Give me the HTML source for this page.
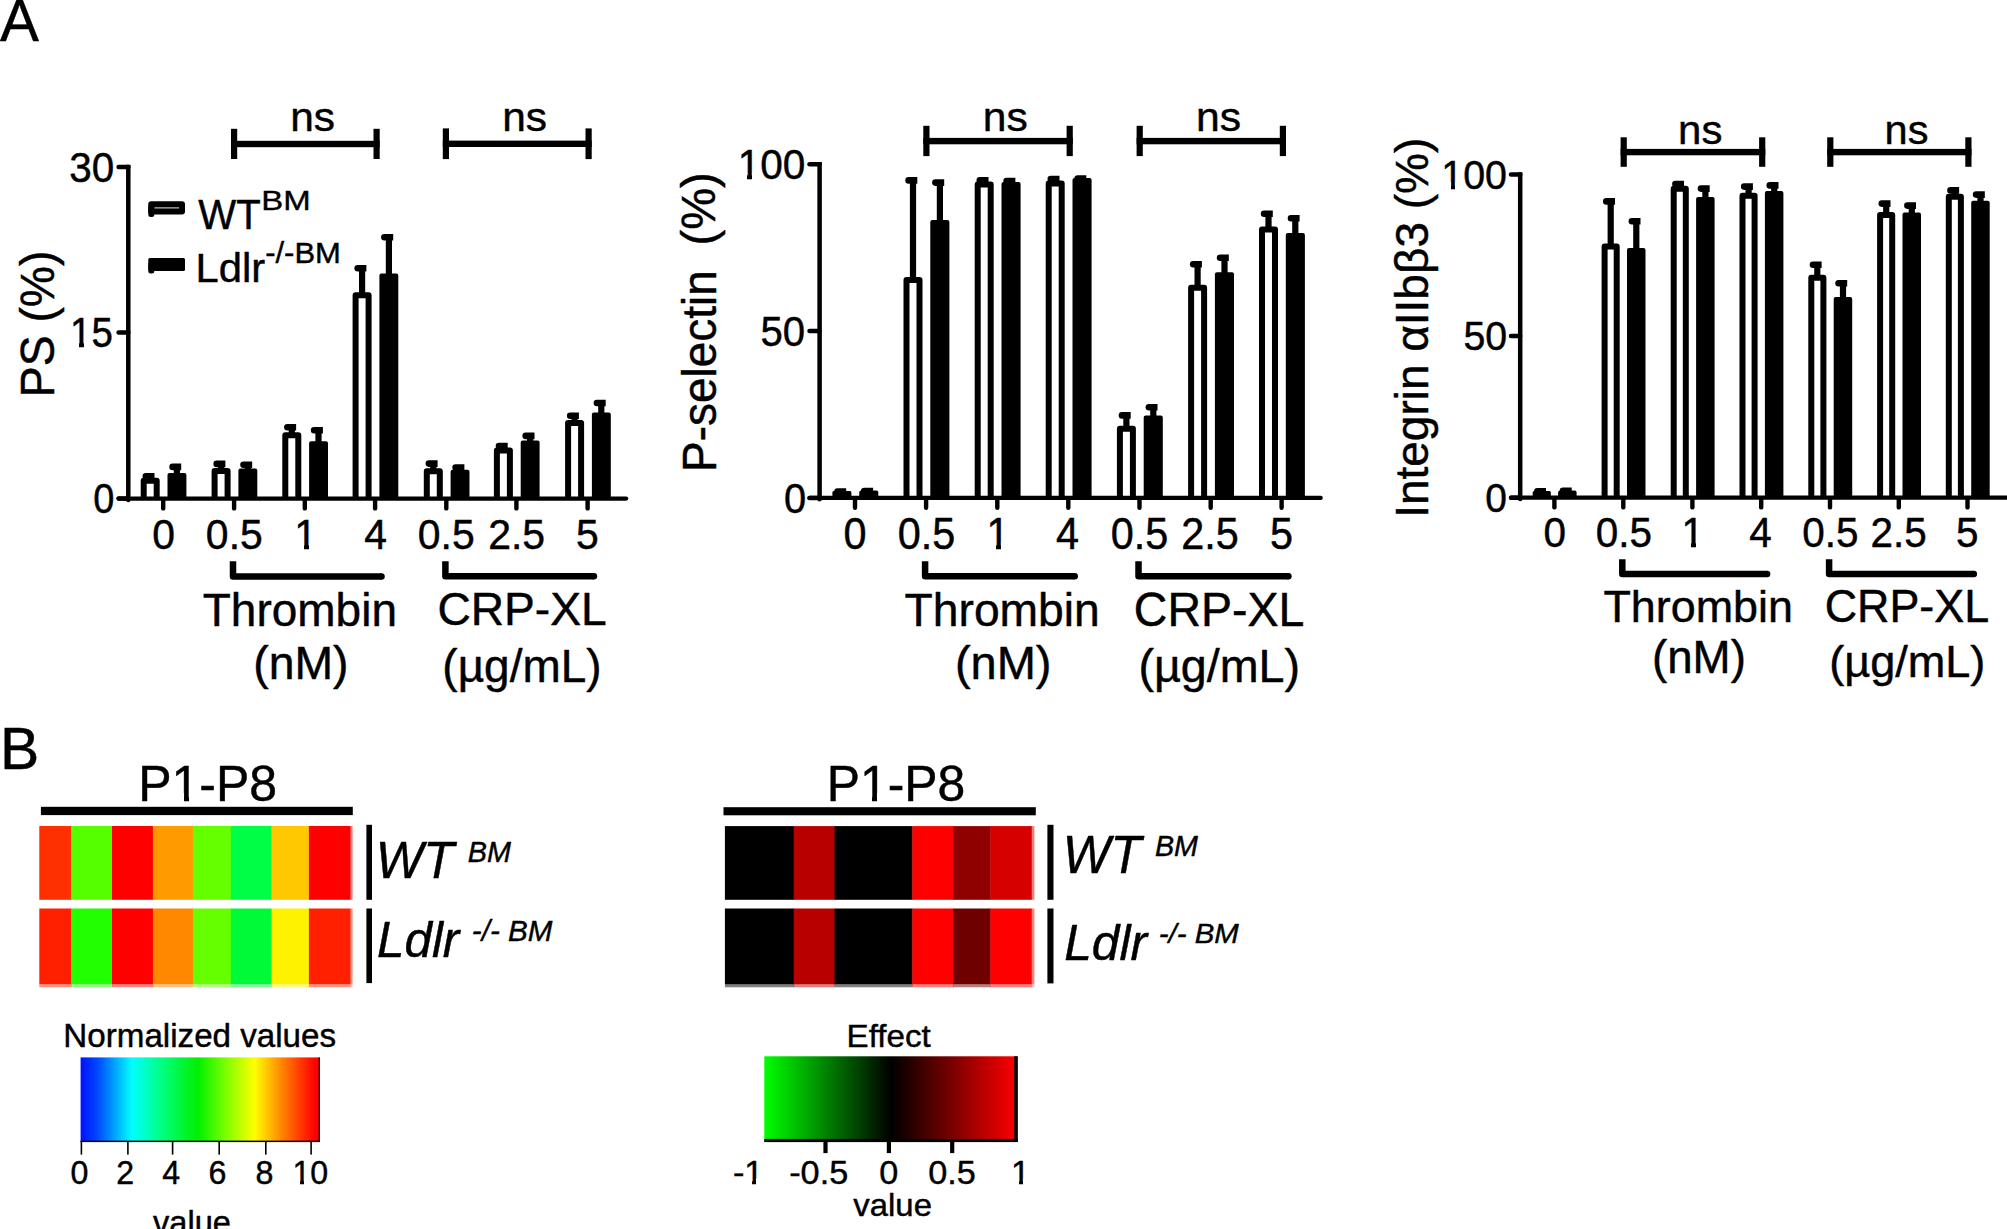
<!DOCTYPE html>
<html><head><meta charset="utf-8"><title>Figure</title>
<style>html,body{margin:0;padding:0;background:#fff;overflow:hidden}svg{display:block}text{stroke:#000;stroke-width:0.45px;stroke-linejoin:round}</style>
</head><body>
<svg width="2007" height="1229" viewBox="0 0 2007 1229" font-family='"Liberation Sans", sans-serif' fill="#000">
<defs>
<linearGradient id="jet" x1="0" x2="1" y1="0" y2="0"><stop offset="0" stop-color="#0010ff"/><stop offset="0.07" stop-color="#0048ff"/><stop offset="0.14" stop-color="#00a0ff"/><stop offset="0.215" stop-color="#00ffff"/><stop offset="0.34" stop-color="#00ff80"/><stop offset="0.49" stop-color="#00f000"/><stop offset="0.61" stop-color="#80ff00"/><stop offset="0.727" stop-color="#ffff00"/><stop offset="0.845" stop-color="#ff8000"/><stop offset="0.98" stop-color="#ff0000"/></linearGradient>
<linearGradient id="gr" x1="0" x2="1" y1="0" y2="0"><stop offset="0" stop-color="#00ff00"/><stop offset="0.5" stop-color="#000000"/><stop offset="1" stop-color="#ff0000"/></linearGradient>
</defs>
<rect width="2007" height="1229" fill="#fff"/>
<rect x="147.1" y="473.9" width="6.2" height="4.9"/>
<path d="M145.8 472.9 H154.5 V479.5 H145.8 A3.3 3.3 0 0 1 145.8 472.9Z"/>
<path d="M143.7 498.6 V480.8 H156.7 V498.6" fill="#fff" stroke="#000" stroke-width="6.0" stroke-linejoin="round"/>
<rect x="173.8" y="464.6" width="6.2" height="9.3"/>
<path d="M172.6 463.6 H181.2 V470.2 H172.6 A3.3 3.3 0 0 1 172.6 463.6Z"/>
<path d="M167.5 498.6 V474.9 Q167.5 472.9 169.5 472.9 H184.4 Q186.4 472.9 186.4 474.9 V498.6Z"/>
<rect x="218.0" y="461.6" width="6.2" height="7.5"/>
<path d="M216.7 460.6 H225.4 V467.2 H216.7 A3.3 3.3 0 0 1 216.7 460.6Z"/>
<path d="M214.6 498.6 V471.1 H227.6 V498.6" fill="#fff" stroke="#000" stroke-width="6.0" stroke-linejoin="round"/>
<rect x="244.8" y="462.4" width="6.2" height="7.2"/>
<path d="M243.5 461.4 H252.2 V468.0 H243.5 A3.3 3.3 0 0 1 243.5 461.4Z"/>
<path d="M238.4 498.6 V470.6 Q238.4 468.6 240.4 468.6 H255.3 Q257.3 468.6 257.3 470.6 V498.6Z"/>
<rect x="288.7" y="425.0" width="6.2" height="8.2"/>
<path d="M287.4 424.0 H296.1 V430.6 H287.4 A3.3 3.3 0 0 1 287.4 424.0Z"/>
<path d="M285.3 498.6 V435.2 H298.3 V498.6" fill="#fff" stroke="#000" stroke-width="6.0" stroke-linejoin="round"/>
<rect x="315.4" y="428.0" width="6.2" height="14.2"/>
<path d="M314.1 427.0 H322.9 V433.6 H314.1 A3.3 3.3 0 0 1 314.1 427.0Z"/>
<path d="M309.1 498.6 V443.2 Q309.1 441.2 311.1 441.2 H326.0 Q328.0 441.2 328.0 443.2 V498.6Z"/>
<rect x="359.0" y="266.0" width="6.2" height="27.3"/>
<path d="M357.7 265.0 H366.4 V271.6 H357.7 A3.3 3.3 0 0 1 357.7 265.0Z"/>
<path d="M355.6 498.6 V295.3 H368.6 V498.6" fill="#fff" stroke="#000" stroke-width="6.0" stroke-linejoin="round"/>
<rect x="385.8" y="235.0" width="6.2" height="39.4"/>
<path d="M384.4 234.0 H393.2 V240.6 H384.4 A3.3 3.3 0 0 1 384.4 234.0Z"/>
<path d="M379.4 498.6 V275.4 Q379.4 273.4 381.4 273.4 H396.3 Q398.3 273.4 398.3 275.4 V498.6Z"/>
<rect x="430.2" y="461.3" width="6.2" height="8.0"/>
<path d="M428.9 460.3 H437.6 V466.9 H428.9 A3.3 3.3 0 0 1 428.9 460.3Z"/>
<path d="M426.8 498.6 V471.3 H439.8 V498.6" fill="#fff" stroke="#000" stroke-width="6.0" stroke-linejoin="round"/>
<rect x="456.9" y="465.3" width="6.2" height="5.4"/>
<path d="M455.6 464.3 H464.4 V470.9 H455.6 A3.3 3.3 0 0 1 455.6 464.3Z"/>
<path d="M450.6 498.6 V471.7 Q450.6 469.7 452.6 469.7 H467.5 Q469.5 469.7 469.5 471.7 V498.6Z"/>
<rect x="500.3" y="443.8" width="6.2" height="4.6"/>
<path d="M499.0 442.8 H507.7 V449.4 H499.0 A3.3 3.3 0 0 1 499.0 442.8Z"/>
<path d="M496.9 498.6 V450.4 H509.9 V498.6" fill="#fff" stroke="#000" stroke-width="6.0" stroke-linejoin="round"/>
<rect x="527.0" y="433.6" width="6.2" height="8.0"/>
<path d="M525.7 432.6 H534.5 V439.2 H525.7 A3.3 3.3 0 0 1 525.7 432.6Z"/>
<path d="M520.7 498.6 V442.6 Q520.7 440.6 522.7 440.6 H537.6 Q539.6 440.6 539.6 442.6 V498.6Z"/>
<rect x="571.5" y="413.4" width="6.2" height="7.5"/>
<path d="M570.2 412.4 H578.9 V419.0 H570.2 A3.3 3.3 0 0 1 570.2 412.4Z"/>
<path d="M568.1 498.6 V422.9 H581.1 V498.6" fill="#fff" stroke="#000" stroke-width="6.0" stroke-linejoin="round"/>
<rect x="598.2" y="400.7" width="6.2" height="12.7"/>
<path d="M596.9 399.7 H605.7 V406.3 H596.9 A3.3 3.3 0 0 1 596.9 399.7Z"/>
<path d="M591.9 498.6 V414.4 Q591.9 412.4 593.9 412.4 H608.8 Q610.8 412.4 610.8 414.4 V498.6Z"/>
<path d="M128.3 164.8 V500.2" stroke="#000" stroke-width="4.5" stroke-linecap="butt" fill="none"/>
<circle cx="128.3" cy="500.0" r="2.2"/>
<path d="M118.6 498.6 H626.2" stroke="#000" stroke-width="4.2" stroke-linecap="round" fill="none"/>
<path d="M118.6 167.0 H128.3" stroke="#000" stroke-width="4.5" stroke-linecap="round" fill="none"/>
<path d="M118.6 332.6 H128.3" stroke="#000" stroke-width="4.5" stroke-linecap="round" fill="none"/>
<path d="M118.6 498.6 H128.3" stroke="#000" stroke-width="4.5" stroke-linecap="round" fill="none"/>
<path d="M163.2 499.1 V508.4" stroke="#000" stroke-width="4.4" stroke-linecap="round" fill="none"/>
<path d="M234.1 499.1 V508.4" stroke="#000" stroke-width="4.4" stroke-linecap="round" fill="none"/>
<path d="M304.8 499.1 V508.4" stroke="#000" stroke-width="4.4" stroke-linecap="round" fill="none"/>
<path d="M375.1 499.1 V508.4" stroke="#000" stroke-width="4.4" stroke-linecap="round" fill="none"/>
<path d="M446.3 499.1 V508.4" stroke="#000" stroke-width="4.4" stroke-linecap="round" fill="none"/>
<path d="M516.4 499.1 V508.4" stroke="#000" stroke-width="4.4" stroke-linecap="round" fill="none"/>
<path d="M587.6 499.1 V508.4" stroke="#000" stroke-width="4.4" stroke-linecap="round" fill="none"/>
<rect x="231.0" y="140.8" width="148.7" height="6.4"/>
<rect x="231.0" y="128.8" width="6.2" height="30.2"/>
<rect x="373.5" y="128.8" width="6.2" height="30.2"/>
<rect x="442.8" y="140.6" width="148.9" height="6.4"/>
<rect x="442.8" y="128.4" width="6.2" height="30.7"/>
<rect x="585.5" y="128.4" width="6.2" height="30.7"/>
<path d="M233.0 561.2 V576.5 H381.5" fill="none" stroke="#000" stroke-width="6.5" stroke-linejoin="round"/>
<circle cx="381.5" cy="576.5" r="3.25"/>
<path d="M445.4 561.3 V576.2 H593.9" fill="none" stroke="#000" stroke-width="6.5" stroke-linejoin="round"/>
<circle cx="593.9" cy="576.2" r="3.25"/>
<rect x="838.8" y="489.2" width="6.2" height="2.9"/>
<path d="M837.5 488.2 H846.2 V494.8 H837.5 A3.3 3.3 0 0 1 837.5 488.2Z"/>
<rect x="832.4" y="491.1" width="19.0" height="6.8" rx="1.5"/>
<rect x="865.6" y="488.7" width="6.2" height="2.7"/>
<path d="M864.3 487.7 H873.1 V494.3 H864.3 A3.3 3.3 0 0 1 864.3 487.7Z"/>
<path d="M859.2 497.9 V492.4 Q859.2 490.4 861.2 490.4 H876.3 Q878.3 490.4 878.3 492.4 V497.9Z"/>
<rect x="909.9" y="178.1" width="6.2" height="99.8"/>
<path d="M908.6 177.1 H917.3 V183.7 H908.6 A3.3 3.3 0 0 1 908.6 177.1Z"/>
<path d="M906.5 497.9 V279.9 H919.5 V497.9" fill="#fff" stroke="#000" stroke-width="6.0" stroke-linejoin="round"/>
<rect x="936.8" y="180.3" width="6.2" height="40.8"/>
<path d="M935.4 179.3 H944.2 V185.9 H935.4 A3.3 3.3 0 0 1 935.4 179.3Z"/>
<path d="M930.3 497.9 V222.1 Q930.3 220.1 932.3 220.1 H947.4 Q949.4 220.1 949.4 222.1 V497.9Z"/>
<rect x="981.1" y="178.1" width="6.2" height="4.5"/>
<path d="M979.8 177.1 H988.5 V183.7 H979.8 A3.3 3.3 0 0 1 979.8 177.1Z"/>
<path d="M977.7 497.9 V184.6 H990.7 V497.9" fill="#fff" stroke="#000" stroke-width="6.0" stroke-linejoin="round"/>
<rect x="1007.9" y="178.7" width="6.2" height="4.3"/>
<path d="M1006.6 177.7 H1015.4 V184.3 H1006.6 A3.3 3.3 0 0 1 1006.6 177.7Z"/>
<path d="M1001.5 497.9 V184.0 Q1001.5 182.0 1003.5 182.0 H1018.6 Q1020.6 182.0 1020.6 184.0 V497.9Z"/>
<rect x="1052.1" y="176.7" width="6.2" height="4.9"/>
<path d="M1050.8 175.7 H1059.5 V182.3 H1050.8 A3.3 3.3 0 0 1 1050.8 175.7Z"/>
<path d="M1048.7 497.9 V183.6 H1061.7 V497.9" fill="#fff" stroke="#000" stroke-width="6.0" stroke-linejoin="round"/>
<rect x="1079.0" y="176.3" width="6.2" height="2.7"/>
<path d="M1077.7 175.3 H1086.3 V181.9 H1077.7 A3.3 3.3 0 0 1 1077.7 175.3Z"/>
<path d="M1072.5 497.9 V180.0 Q1072.5 178.0 1074.5 178.0 H1089.6 Q1091.6 178.0 1091.6 180.0 V497.9Z"/>
<rect x="1123.3" y="413.1" width="6.2" height="13.7"/>
<path d="M1122.0 412.1 H1130.7 V418.7 H1122.0 A3.3 3.3 0 0 1 1122.0 412.1Z"/>
<path d="M1119.9 497.9 V428.8 H1132.9 V497.9" fill="#fff" stroke="#000" stroke-width="6.0" stroke-linejoin="round"/>
<rect x="1150.2" y="405.0" width="6.2" height="11.6"/>
<path d="M1148.9 404.0 H1157.5 V410.6 H1148.9 A3.3 3.3 0 0 1 1148.9 404.0Z"/>
<path d="M1143.7 497.9 V417.6 Q1143.7 415.6 1145.7 415.6 H1160.8 Q1162.8 415.6 1162.8 417.6 V497.9Z"/>
<rect x="1194.5" y="262.0" width="6.2" height="23.7"/>
<path d="M1193.2 261.0 H1201.9 V267.6 H1193.2 A3.3 3.3 0 0 1 1193.2 261.0Z"/>
<path d="M1191.1 497.9 V287.7 H1204.1 V497.9" fill="#fff" stroke="#000" stroke-width="6.0" stroke-linejoin="round"/>
<rect x="1221.4" y="255.4" width="6.2" height="17.9"/>
<path d="M1220.1 254.4 H1228.8 V261.0 H1220.1 A3.3 3.3 0 0 1 1220.1 254.4Z"/>
<path d="M1214.9 497.9 V274.3 Q1214.9 272.3 1216.9 272.3 H1232.0 Q1234.0 272.3 1234.0 274.3 V497.9Z"/>
<rect x="1265.4" y="211.5" width="6.2" height="16.0"/>
<path d="M1264.1 210.5 H1272.8 V217.1 H1264.1 A3.3 3.3 0 0 1 1264.1 210.5Z"/>
<path d="M1262.0 497.9 V229.5 H1275.0 V497.9" fill="#fff" stroke="#000" stroke-width="6.0" stroke-linejoin="round"/>
<rect x="1292.2" y="215.9" width="6.2" height="18.2"/>
<path d="M1291.0 214.9 H1299.6 V221.5 H1291.0 A3.3 3.3 0 0 1 1291.0 214.9Z"/>
<path d="M1285.8 497.9 V235.1 Q1285.8 233.1 1287.8 233.1 H1302.9 Q1304.9 233.1 1304.9 235.1 V497.9Z"/>
<path d="M819.6 162.1 V499.5" stroke="#000" stroke-width="4.5" stroke-linecap="butt" fill="none"/>
<circle cx="819.6" cy="499.3" r="2.2"/>
<path d="M809.5 497.9 H1320.7" stroke="#000" stroke-width="4.2" stroke-linecap="round" fill="none"/>
<path d="M809.5 164.3 H819.6" stroke="#000" stroke-width="4.5" stroke-linecap="round" fill="none"/>
<path d="M809.5 330.9 H819.6" stroke="#000" stroke-width="4.5" stroke-linecap="round" fill="none"/>
<path d="M809.5 497.9 H819.6" stroke="#000" stroke-width="4.5" stroke-linecap="round" fill="none"/>
<path d="M855.0 498.4 V507.8" stroke="#000" stroke-width="4.4" stroke-linecap="round" fill="none"/>
<path d="M926.1 498.4 V507.8" stroke="#000" stroke-width="4.4" stroke-linecap="round" fill="none"/>
<path d="M997.3 498.4 V507.8" stroke="#000" stroke-width="4.4" stroke-linecap="round" fill="none"/>
<path d="M1068.3 498.4 V507.8" stroke="#000" stroke-width="4.4" stroke-linecap="round" fill="none"/>
<path d="M1139.5 498.4 V507.8" stroke="#000" stroke-width="4.4" stroke-linecap="round" fill="none"/>
<path d="M1210.7 498.4 V507.8" stroke="#000" stroke-width="4.4" stroke-linecap="round" fill="none"/>
<path d="M1281.6 498.4 V507.8" stroke="#000" stroke-width="4.4" stroke-linecap="round" fill="none"/>
<rect x="923.3" y="137.9" width="149.5" height="6.4"/>
<rect x="923.3" y="125.8" width="6.2" height="30.3"/>
<rect x="1066.6" y="125.8" width="6.2" height="30.3"/>
<rect x="1136.6" y="137.9" width="149.4" height="6.4"/>
<rect x="1136.6" y="125.8" width="6.2" height="30.3"/>
<rect x="1279.8" y="125.8" width="6.2" height="30.3"/>
<path d="M925.1 561.3 V576.2 H1074.7" fill="none" stroke="#000" stroke-width="6.5" stroke-linejoin="round"/>
<circle cx="1074.7" cy="576.2" r="3.25"/>
<path d="M1138.5 561.3 V576.2 H1288.4" fill="none" stroke="#000" stroke-width="6.5" stroke-linejoin="round"/>
<circle cx="1288.4" cy="576.2" r="3.25"/>
<rect x="1538.7" y="489.0" width="6.2" height="3.0"/>
<path d="M1537.4 488.0 H1546.0 V494.6 H1537.4 A3.3 3.3 0 0 1 1537.4 488.0Z"/>
<rect x="1532.7" y="491.0" width="18.1" height="6.7" rx="1.5"/>
<rect x="1564.3" y="488.6" width="6.2" height="2.8"/>
<path d="M1563.0 487.6 H1571.7 V494.2 H1563.0 A3.3 3.3 0 0 1 1563.0 487.6Z"/>
<path d="M1558.1 497.7 V492.4 Q1558.1 490.4 1560.1 490.4 H1574.6 Q1576.6 490.4 1576.6 492.4 V497.7Z"/>
<rect x="1607.6" y="199.1" width="6.2" height="45.4"/>
<path d="M1606.3 198.1 H1615.0 V204.7 H1606.3 A3.3 3.3 0 0 1 1606.3 198.1Z"/>
<path d="M1604.6 497.7 V246.5 H1616.7 V497.7" fill="#fff" stroke="#000" stroke-width="6.0" stroke-linejoin="round"/>
<rect x="1633.2" y="219.0" width="6.2" height="29.9"/>
<path d="M1631.9 218.0 H1640.5 V224.6 H1631.9 A3.3 3.3 0 0 1 1631.9 218.0Z"/>
<path d="M1627.0 497.7 V249.9 Q1627.0 247.9 1629.0 247.9 H1643.5 Q1645.5 247.9 1645.5 249.9 V497.7Z"/>
<rect x="1676.7" y="181.7" width="6.2" height="5.0"/>
<path d="M1675.4 180.7 H1684.0 V187.3 H1675.4 A3.3 3.3 0 0 1 1675.4 180.7Z"/>
<path d="M1673.7 497.7 V188.7 H1685.8 V497.7" fill="#fff" stroke="#000" stroke-width="6.0" stroke-linejoin="round"/>
<rect x="1702.3" y="186.3" width="6.2" height="11.8"/>
<path d="M1701.0 185.3 H1709.7 V191.9 H1701.0 A3.3 3.3 0 0 1 1701.0 185.3Z"/>
<path d="M1696.1 497.7 V199.1 Q1696.1 197.1 1698.1 197.1 H1712.6 Q1714.6 197.1 1714.6 199.1 V497.7Z"/>
<rect x="1745.5" y="184.3" width="6.2" height="9.4"/>
<path d="M1744.2 183.3 H1752.9 V189.9 H1744.2 A3.3 3.3 0 0 1 1744.2 183.3Z"/>
<path d="M1742.5 497.7 V195.7 H1754.6 V497.7" fill="#fff" stroke="#000" stroke-width="6.0" stroke-linejoin="round"/>
<rect x="1771.1" y="183.1" width="6.2" height="8.9"/>
<path d="M1769.8 182.1 H1778.5 V188.7 H1769.8 A3.3 3.3 0 0 1 1769.8 182.1Z"/>
<path d="M1764.9 497.7 V193.0 Q1764.9 191.0 1766.9 191.0 H1781.4 Q1783.4 191.0 1783.4 193.0 V497.7Z"/>
<rect x="1814.2" y="262.5" width="6.2" height="13.3"/>
<path d="M1813.0 261.5 H1821.6 V268.1 H1813.0 A3.3 3.3 0 0 1 1813.0 261.5Z"/>
<path d="M1811.3 497.7 V277.8 H1823.4 V497.7" fill="#fff" stroke="#000" stroke-width="6.0" stroke-linejoin="round"/>
<rect x="1839.9" y="281.0" width="6.2" height="17.0"/>
<path d="M1838.6 280.0 H1847.2 V286.6 H1838.6 A3.3 3.3 0 0 1 1838.6 280.0Z"/>
<path d="M1833.7 497.7 V299.0 Q1833.7 297.0 1835.7 297.0 H1850.2 Q1852.2 297.0 1852.2 299.0 V497.7Z"/>
<rect x="1883.1" y="201.3" width="6.2" height="11.7"/>
<path d="M1881.8 200.3 H1890.5 V206.9 H1881.8 A3.3 3.3 0 0 1 1881.8 200.3Z"/>
<path d="M1880.1 497.7 V215.0 H1892.2 V497.7" fill="#fff" stroke="#000" stroke-width="6.0" stroke-linejoin="round"/>
<rect x="1908.7" y="203.3" width="6.2" height="10.3"/>
<path d="M1907.4 202.3 H1916.0 V208.9 H1907.4 A3.3 3.3 0 0 1 1907.4 202.3Z"/>
<path d="M1902.5 497.7 V214.6 Q1902.5 212.6 1904.5 212.6 H1919.0 Q1921.0 212.6 1921.0 214.6 V497.7Z"/>
<rect x="1951.8" y="188.1" width="6.2" height="6.6"/>
<path d="M1950.5 187.1 H1959.1 V193.7 H1950.5 A3.3 3.3 0 0 1 1950.5 187.1Z"/>
<path d="M1948.8 497.7 V196.7 H1960.9 V497.7" fill="#fff" stroke="#000" stroke-width="6.0" stroke-linejoin="round"/>
<rect x="1977.4" y="192.3" width="6.2" height="9.4"/>
<path d="M1976.1 191.3 H1984.8 V197.9 H1976.1 A3.3 3.3 0 0 1 1976.1 191.3Z"/>
<path d="M1971.2 497.7 V202.7 Q1971.2 200.7 1973.2 200.7 H1987.7 Q1989.7 200.7 1989.7 202.7 V497.7Z"/>
<path d="M1520.2 172.2 V499.3" stroke="#000" stroke-width="4.5" stroke-linecap="butt" fill="none"/>
<circle cx="1520.2" cy="499.1" r="2.2"/>
<path d="M1511.0 497.7 H2009.9" stroke="#000" stroke-width="4.2" stroke-linecap="round" fill="none"/>
<path d="M1511.0 174.5 H1520.2" stroke="#000" stroke-width="4.5" stroke-linecap="round" fill="none"/>
<path d="M1511.0 335.9 H1520.2" stroke="#000" stroke-width="4.5" stroke-linecap="round" fill="none"/>
<path d="M1511.0 497.7 H1520.2" stroke="#000" stroke-width="4.5" stroke-linecap="round" fill="none"/>
<path d="M1554.4 498.2 V507.4" stroke="#000" stroke-width="4.4" stroke-linecap="round" fill="none"/>
<path d="M1623.3 498.2 V507.4" stroke="#000" stroke-width="4.4" stroke-linecap="round" fill="none"/>
<path d="M1692.4 498.2 V507.4" stroke="#000" stroke-width="4.4" stroke-linecap="round" fill="none"/>
<path d="M1761.2 498.2 V507.4" stroke="#000" stroke-width="4.4" stroke-linecap="round" fill="none"/>
<path d="M1830.0 498.2 V507.4" stroke="#000" stroke-width="4.4" stroke-linecap="round" fill="none"/>
<path d="M1898.8 498.2 V507.4" stroke="#000" stroke-width="4.4" stroke-linecap="round" fill="none"/>
<path d="M1967.5 498.2 V507.4" stroke="#000" stroke-width="4.4" stroke-linecap="round" fill="none"/>
<rect x="1620.6" y="148.9" width="144.7" height="6.4"/>
<rect x="1620.6" y="137.3" width="6.2" height="29.5"/>
<rect x="1759.1" y="137.3" width="6.2" height="29.5"/>
<rect x="1827.2" y="148.9" width="144.3" height="6.4"/>
<rect x="1827.2" y="137.3" width="6.2" height="29.5"/>
<rect x="1965.3" y="137.3" width="6.2" height="29.5"/>
<path d="M1622.3 559.3 V574.0 H1767.1" fill="none" stroke="#000" stroke-width="6.5" stroke-linejoin="round"/>
<circle cx="1767.1" cy="574.0" r="3.25"/>
<path d="M1829.1 559.3 V574.0 H1973.8" fill="none" stroke="#000" stroke-width="6.5" stroke-linejoin="round"/>
<circle cx="1973.8" cy="574.0" r="3.25"/>
<text transform="translate(0.00,40.75) scale(1,1.0244)" font-size="58.36" xml:space="preserve" >A</text>
<text transform="translate(69.28,181.58) scale(1,1.0448)" font-size="40.44" xml:space="preserve" >30</text>
<clipPath id="c1_1"><path clip-rule="evenodd" d="M-50 -46.1H92.8V19.2H-50ZM0.751 -6.20H8.880V1.69H0.751ZM13.880 -6.20H21.591V1.69H13.880Z"/></clipPath>
<text transform="translate(70.12,347.17) scale(1,1.1146)" font-size="38.45" clip-path="url(#c1_1)" xml:space="preserve" >15</text>
<text transform="translate(93.17,513.18) scale(1,1.1137)" font-size="37.94" xml:space="preserve" >0</text>
<text transform="translate(290.14,130.80) scale(1,0.9378)" font-size="42.46" xml:space="preserve" >ns</text>
<text transform="translate(502.14,130.69) scale(1,0.9549)" font-size="42.46" xml:space="preserve" >ns</text>
<text transform="translate(198.30,229.40) scale(1,1.0390)" font-size="40.16" xml:space="preserve" >WT</text>
<text transform="translate(261.36,209.70) scale(1,0.8492)" font-size="32.94" xml:space="preserve" >BM</text>
<text transform="translate(195.46,281.70) scale(1,0.9598)" font-size="41.79" xml:space="preserve" >Ldlr</text>
<text transform="translate(265.16,262.86) scale(1,0.9515)" font-size="31.00" xml:space="preserve" >-/-BM</text>
<text transform="translate(53.58,397.21) rotate(-90) scale(1,1.0198)" font-size="46.32" xml:space="preserve">PS (%)</text>
<text transform="translate(417.77,549.07) scale(1,1.0390)" font-size="40.94" xml:space="preserve" >0.5</text>
<text transform="translate(152.24,549.07) scale(1,1.0390)" font-size="40.94" xml:space="preserve">0</text>
<text transform="translate(205.87,549.07) scale(1,1.0390)" font-size="40.94" xml:space="preserve">0.5</text>
<clipPath id="c1_2"><path clip-rule="evenodd" d="M-50 -49.1H72.8V20.5H-50ZM0.800 -6.60H9.860V1.80H0.800ZM14.860 -6.60H22.989V1.80H14.860Z"/></clipPath>
<text transform="translate(294.14,549.07) scale(1,1.0390)" font-size="40.94" clip-path="url(#c1_2)" xml:space="preserve">1</text>
<text transform="translate(364.24,549.07) scale(1,1.0390)" font-size="40.94" xml:space="preserve">4</text>
<text transform="translate(488.16,549.07) scale(1,1.0390)" font-size="40.94" xml:space="preserve">2.5</text>
<text transform="translate(575.94,549.07) scale(1,1.0390)" font-size="40.94" xml:space="preserve">5</text>
<text transform="translate(202.78,626.01) scale(1,1.0070)" font-size="45.99" xml:space="preserve" >Thrombin</text>
<text transform="translate(253.22,679.05) scale(1,1.0118)" font-size="46.36" xml:space="preserve" >(nM)</text>
<text transform="translate(437.39,625.35) scale(1,0.9851)" font-size="46.18" xml:space="preserve" >CRP-XL</text>
<text transform="translate(442.34,681.76) scale(1,0.9995)" font-size="45.95" xml:space="preserve" >(µg/mL)</text>
<clipPath id="c1_3"><path clip-rule="evenodd" d="M-50 -48.7H117.7V20.3H-50ZM0.793 -6.54H9.340V1.78H0.793ZM14.340 -6.54H22.787V1.78H14.340Z"/></clipPath>
<text transform="translate(737.66,178.77) scale(1,1.0517)" font-size="40.58" clip-path="url(#c1_3)" xml:space="preserve" >100</text>
<text transform="translate(760.49,345.67) scale(1,1.0629)" font-size="40.15" xml:space="preserve" >50</text>
<text transform="translate(783.91,512.67) scale(1,1.0725)" font-size="39.79" xml:space="preserve" >0</text>
<text transform="translate(982.83,130.69) scale(1,0.9524)" font-size="42.57" xml:space="preserve" >ns</text>
<text transform="translate(1195.93,130.69) scale(1,0.9502)" font-size="42.67" xml:space="preserve" >ns</text>
<text transform="translate(716.42,471.97) rotate(-90) scale(1,1.0423)" font-size="45.94" xml:space="preserve">P-selectin</text>
<text transform="translate(715.33,245.43) rotate(-90) scale(1,1.0285)" font-size="47.11" xml:space="preserve">(%)</text>
<text transform="translate(897.65,548.96) scale(1,1.0512)" font-size="41.40" xml:space="preserve" >0.5</text>
<text transform="translate(843.51,548.96) scale(1,1.0512)" font-size="41.40" xml:space="preserve">0</text>
<clipPath id="c1_4"><path clip-rule="evenodd" d="M-50 -49.7H73.0V20.7H-50ZM0.809 -6.67H9.560V1.82H0.809ZM14.560 -6.67H23.247V1.82H14.560Z"/></clipPath>
<text transform="translate(986.44,548.96) scale(1,1.0512)" font-size="41.40" clip-path="url(#c1_4)" xml:space="preserve">1</text>
<text transform="translate(1056.12,548.96) scale(1,1.0512)" font-size="41.40" xml:space="preserve">4</text>
<text transform="translate(1110.85,548.96) scale(1,1.0512)" font-size="41.40" xml:space="preserve">0.5</text>
<text transform="translate(1181.34,548.96) scale(1,1.0512)" font-size="41.40" xml:space="preserve">2.5</text>
<text transform="translate(1270.11,548.96) scale(1,1.0512)" font-size="41.40" xml:space="preserve">5</text>
<text transform="translate(904.58,626.11) scale(1,0.9929)" font-size="46.23" xml:space="preserve" >Thrombin</text>
<text transform="translate(954.88,679.17) scale(1,0.9951)" font-size="47.03" xml:space="preserve" >(nM)</text>
<text transform="translate(1133.87,626.32) scale(1,1.0266)" font-size="46.51" xml:space="preserve" >CRP-XL</text>
<text transform="translate(1138.40,682.22) scale(1,0.9983)" font-size="46.66" xml:space="preserve" >(µg/mL)</text>
<clipPath id="c1_5"><path clip-rule="evenodd" d="M-50 -47.2H115.7V19.7H-50ZM0.769 -6.34H9.650V1.73H0.769ZM13.650 -6.34H22.102V1.73H13.650Z"/></clipPath>
<text transform="translate(1441.35,188.79) scale(1,1.0520)" font-size="39.36" clip-path="url(#c1_5)" xml:space="preserve" >100</text>
<text transform="translate(1463.43,350.19) scale(1,1.0542)" font-size="39.28" xml:space="preserve" >50</text>
<text transform="translate(1485.34,511.99) scale(1,1.0626)" font-size="38.97" xml:space="preserve" >0</text>
<text transform="translate(1678.07,144.10) scale(1,0.9494)" font-size="41.94" xml:space="preserve" >ns</text>
<text transform="translate(1884.60,144.20) scale(1,0.9634)" font-size="41.52" xml:space="preserve" >ns</text>
<text transform="translate(1428.26,517.84) rotate(-90) scale(1,1.0082)" font-size="45.99" xml:space="preserve">Integrin αIIbβ3 (%)</text>
<text transform="translate(1595.68,547.38) scale(1,1.0331)" font-size="40.49" xml:space="preserve" >0.5</text>
<text transform="translate(1543.46,547.38) scale(1,1.0331)" font-size="40.49" xml:space="preserve">0</text>
<clipPath id="c1_6"><path clip-rule="evenodd" d="M-50 -48.6H72.5V20.2H-50ZM0.791 -6.52H9.560V1.78H0.791ZM14.560 -6.52H22.736V1.78H14.560Z"/></clipPath>
<text transform="translate(1681.44,547.38) scale(1,1.0331)" font-size="40.49" clip-path="url(#c1_6)" xml:space="preserve">1</text>
<text transform="translate(1749.17,547.38) scale(1,1.0331)" font-size="40.49" xml:space="preserve">4</text>
<text transform="translate(1802.18,547.38) scale(1,1.0331)" font-size="40.49" xml:space="preserve">0.5</text>
<text transform="translate(1870.38,547.38) scale(1,1.0331)" font-size="40.49" xml:space="preserve">2.5</text>
<text transform="translate(1956.06,547.38) scale(1,1.0331)" font-size="40.49" xml:space="preserve">5</text>
<text transform="translate(1603.40,621.53) scale(1,0.9920)" font-size="44.88" xml:space="preserve" >Thrombin</text>
<text transform="translate(1651.96,673.45) scale(1,0.9956)" font-size="45.69" xml:space="preserve" >(nM)</text>
<text transform="translate(1824.66,621.74) scale(1,1.0267)" font-size="44.86" xml:space="preserve" >CRP-XL</text>
<text transform="translate(1829.20,676.56) scale(1,0.9970)" font-size="45.08" xml:space="preserve" >(µg/mL)</text>
<path d="M151.2 204.3 H182 V211.5 H151.2Z" fill="#bbb" stroke="#000" stroke-width="6" stroke-linejoin="round"/>
<rect x="148.3" y="205" width="6" height="12" rx="2.5"/>
<rect x="148.3" y="257.9" width="36.7" height="13" rx="1.5"/>
<rect x="148.3" y="262" width="6" height="11.5" rx="2.5"/>
<text transform="translate(-0.01,769.10) scale(1,1.0043)" font-size="58.88" xml:space="preserve" >B</text>
<clipPath id="c1_7"><path clip-rule="evenodd" d="M-50 -60.0H189.0V25.0H-50ZM34.326 -8.06H45.800V2.20H34.326ZM50.800 -8.06H61.426V2.20H50.800Z"/></clipPath>
<text transform="translate(138.20,800.91) scale(1,0.9874)" font-size="50.00" clip-path="url(#c1_7)" xml:space="preserve" >P1-P8</text>
<rect x="40.9" y="806.8" width="311.9" height="8.3"/>
<rect x="39.3" y="826" width="32.4" height="73.8" fill="#ff3000"/>
<rect x="39.3" y="908.5" width="32.4" height="75.8" fill="#ff2000"/>
<rect x="39.3" y="984.3" width="32.4" height="2.9" fill="#ff2000" opacity="0.5"/>
<rect x="71.3" y="826" width="41.1" height="73.8" fill="#55ff00"/>
<rect x="71.3" y="908.5" width="41.1" height="75.8" fill="#22ff00"/>
<rect x="71.3" y="984.3" width="41.1" height="2.9" fill="#22ff00" opacity="0.5"/>
<rect x="112.0" y="826" width="41.3" height="73.8" fill="#ff0000"/>
<rect x="112.0" y="908.5" width="41.3" height="75.8" fill="#ff0000"/>
<rect x="112.0" y="984.3" width="41.3" height="2.9" fill="#ff0000" opacity="0.5"/>
<rect x="152.9" y="826" width="40.4" height="73.8" fill="#ff9a00"/>
<rect x="152.9" y="908.5" width="40.4" height="75.8" fill="#ff8800"/>
<rect x="152.9" y="984.3" width="40.4" height="2.9" fill="#ff8800" opacity="0.5"/>
<rect x="192.9" y="826" width="38.3" height="73.8" fill="#66ff00"/>
<rect x="192.9" y="908.5" width="38.3" height="75.8" fill="#66ff00"/>
<rect x="192.9" y="984.3" width="38.3" height="2.9" fill="#66ff00" opacity="0.5"/>
<rect x="230.8" y="826" width="41.1" height="73.8" fill="#00ff44"/>
<rect x="230.8" y="908.5" width="41.1" height="75.8" fill="#00fa38"/>
<rect x="230.8" y="984.3" width="41.1" height="2.9" fill="#00fa38" opacity="0.5"/>
<rect x="271.5" y="826" width="37.8" height="73.8" fill="#ffc800"/>
<rect x="271.5" y="908.5" width="37.8" height="75.8" fill="#fff200"/>
<rect x="271.5" y="984.3" width="37.8" height="2.9" fill="#fff200" opacity="0.5"/>
<rect x="308.9" y="826" width="41.5" height="73.8" fill="#ff0000"/>
<rect x="308.9" y="908.5" width="41.5" height="75.8" fill="#ff2000"/>
<rect x="308.9" y="984.3" width="41.5" height="2.9" fill="#ff2000" opacity="0.5"/>
<rect x="350.0" y="826" width="2.6" height="73.8" fill="#ff0000" opacity="0.5"/>
<rect x="350.0" y="908.5" width="2.6" height="75.8" fill="#ff2000" opacity="0.5"/>
<rect x="350.0" y="984.3" width="2.6" height="2.9" fill="#ff2000" opacity="0.25"/>
<rect x="366.4" y="824.8" width="5.6" height="75"/>
<rect x="366.4" y="908.5" width="5.6" height="74.6"/>
<text transform="translate(375.71,878.40) scale(1,1.0328)" font-size="50.43" font-style="italic" xml:space="preserve" >WT</text>
<text transform="translate(467.84,861.90) scale(1,1.0438)" font-size="28.74" font-style="italic" xml:space="preserve" >BM</text>
<text transform="translate(377.12,957.35) scale(1,1.0127)" font-size="49.27" font-style="italic" xml:space="preserve" >Ldlr</text>
<text transform="translate(471.82,941.16) scale(1,0.9832)" font-size="29.58" font-style="italic" xml:space="preserve" >-/- BM</text>
<text transform="translate(63.35,1047.31) scale(1,0.9849)" font-size="33.17" xml:space="preserve" >Normalized values</text>
<rect x="80.6" y="1057.4" width="239.2" height="84.6" fill="url(#jet)"/>
<rect x="318.6" y="1057.4" width="1.2" height="84.6"/>
<rect x="80.6" y="1140.6" width="239.2" height="1.5"/>
<rect x="80.6" y="1141" width="1.6" height="13.6"/>
<rect x="127.1" y="1141" width="1.6" height="13.6"/>
<rect x="171.8" y="1141" width="1.6" height="13.6"/>
<rect x="218.4" y="1141" width="1.6" height="13.6"/>
<rect x="265.0" y="1141" width="1.6" height="13.6"/>
<rect x="310.3" y="1141" width="1.6" height="13.6"/>
<text transform="translate(70.47,1183.77) scale(1,1.0160)" font-size="32.16" xml:space="preserve" >0</text>
<text transform="translate(116.20,1183.77) scale(1,1.0160)" font-size="32.16" xml:space="preserve">2</text>
<text transform="translate(162.36,1183.77) scale(1,1.0160)" font-size="32.16" xml:space="preserve">4</text>
<text transform="translate(208.61,1183.77) scale(1,1.0160)" font-size="32.16" xml:space="preserve">6</text>
<text transform="translate(255.38,1183.77) scale(1,1.0160)" font-size="32.16" xml:space="preserve">8</text>
<clipPath id="c1_8"><path clip-rule="evenodd" d="M-50 -38.6H85.8V16.1H-50ZM0.628 -5.18H7.530V1.41H0.628ZM11.530 -5.18H18.059V1.41H11.530Z"/></clipPath>
<text transform="translate(292.47,1183.77) scale(1,1.0160)" font-size="32.16" clip-path="url(#c1_8)" xml:space="preserve">10</text>
<text x="153.05" y="1234.49" font-size="32.60">value</text>
<clipPath id="c1_9"><path clip-rule="evenodd" d="M-50 -59.8H188.4V24.9H-50ZM34.196 -8.03H45.180V2.19H34.196ZM50.180 -8.03H61.192V2.19H50.180Z"/></clipPath>
<text transform="translate(826.82,801.01) scale(1,0.9912)" font-size="49.81" clip-path="url(#c1_9)" xml:space="preserve" >P1-P8</text>
<rect x="723.5" y="807.2" width="312.3" height="8.1"/>
<rect x="724.9" y="826.1" width="69.2" height="73.7" fill="#000"/>
<rect x="724.9" y="908.5" width="69.2" height="75.9" fill="#000"/>
<rect x="724.9" y="984.4" width="69.2" height="2.9" fill="#000" opacity="0.5"/>
<rect x="793.7" y="826.1" width="41.2" height="73.7" fill="#b80000"/>
<rect x="793.7" y="908.5" width="41.2" height="75.9" fill="#b80000"/>
<rect x="793.7" y="984.4" width="41.2" height="2.9" fill="#b80000" opacity="0.5"/>
<rect x="834.5" y="826.1" width="78.2" height="73.7" fill="#000"/>
<rect x="834.5" y="908.5" width="78.2" height="75.9" fill="#000"/>
<rect x="834.5" y="984.4" width="78.2" height="2.9" fill="#000" opacity="0.5"/>
<rect x="912.3" y="826.1" width="41.2" height="73.7" fill="#ff0000"/>
<rect x="912.3" y="908.5" width="41.2" height="75.9" fill="#ff0000"/>
<rect x="912.3" y="984.4" width="41.2" height="2.9" fill="#ff0000" opacity="0.5"/>
<rect x="953.1" y="826.1" width="37.7" height="73.7" fill="#8f0000"/>
<rect x="953.1" y="908.5" width="37.7" height="75.9" fill="#6e0000"/>
<rect x="953.1" y="984.4" width="37.7" height="2.9" fill="#6e0000" opacity="0.5"/>
<rect x="990.4" y="826.1" width="41.4" height="73.7" fill="#d60000"/>
<rect x="990.4" y="908.5" width="41.4" height="75.9" fill="#ff0000"/>
<rect x="990.4" y="984.4" width="41.4" height="2.9" fill="#ff0000" opacity="0.5"/>
<rect x="1031.4" y="826.1" width="3.0" height="73.7" fill="#d60000" opacity="0.5"/>
<rect x="1031.4" y="908.5" width="3.0" height="75.9" fill="#ff0000" opacity="0.5"/>
<rect x="1031.4" y="984.4" width="3.0" height="2.9" fill="#ff0000" opacity="0.25"/>
<rect x="1047.4" y="824.8" width="6.1" height="75"/>
<rect x="1047.4" y="908.5" width="6.1" height="74.9"/>
<text transform="translate(1062.81,873.00) scale(1,1.0500)" font-size="50.43" font-style="italic" xml:space="preserve" >WT</text>
<text transform="translate(1154.94,855.90) scale(1,1.0464)" font-size="28.67" font-style="italic" xml:space="preserve" >BM</text>
<text transform="translate(1064.21,959.94) scale(1,1.0220)" font-size="49.63" font-style="italic" xml:space="preserve" >Ldlr</text>
<text transform="translate(1158.83,943.17) scale(1,0.9705)" font-size="29.40" font-style="italic" xml:space="preserve" >-/- BM</text>
<text transform="translate(846.55,1047.48) scale(1,0.9503)" font-size="33.15" xml:space="preserve" >Effect</text>
<rect x="764.3" y="1056.3" width="253.4" height="85.7" fill="url(#gr)"/>
<rect x="1014.2" y="1056.3" width="3.5" height="85.7"/>
<rect x="764.3" y="1138.9" width="253.4" height="3.2"/>
<rect x="823.4" y="1140" width="4.2" height="13.1"/>
<rect x="886.8" y="1140" width="4.2" height="13.1"/>
<rect x="950.1" y="1140" width="4.2" height="13.1"/>
<text transform="translate(789.23,1183.77) scale(1,0.9505)" font-size="34.23" xml:space="preserve" >-0.5</text>
<clipPath id="c1_10"><path clip-rule="evenodd" d="M-50 -41.1H80.4V17.1H-50ZM12.067 -5.52H19.100V1.50H12.067ZM23.100 -5.52H30.620V1.50H23.100Z"/></clipPath>
<text transform="translate(732.90,1183.77) scale(1,0.9505)" font-size="34.23" clip-path="url(#c1_10)" xml:space="preserve">-1</text>
<text transform="translate(879.30,1183.77) scale(1,0.9505)" font-size="34.23" xml:space="preserve">0</text>
<text transform="translate(928.31,1183.77) scale(1,0.9505)" font-size="34.23" xml:space="preserve">0.5</text>
<clipPath id="c1_11"><path clip-rule="evenodd" d="M-50 -41.1H69.0V17.1H-50ZM0.669 -5.52H7.890V1.50H0.669ZM11.890 -5.52H19.221V1.50H11.890Z"/></clipPath>
<text transform="translate(1011.11,1183.77) scale(1,0.9505)" font-size="34.23" clip-path="url(#c1_11)" xml:space="preserve">1</text>
<text transform="translate(853.30,1216.39) scale(1,0.9305)" font-size="32.90" xml:space="preserve" >value</text>
</svg>
</body></html>
